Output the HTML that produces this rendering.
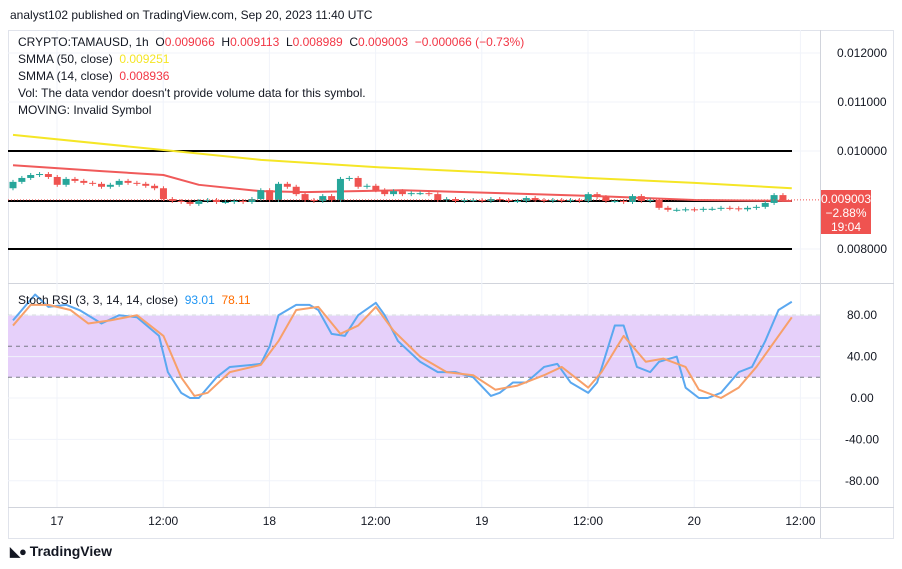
<!DOCTYPE html>
<html><head><meta charset="utf-8"><style>
body{margin:0;width:902px;height:569px;background:#fff;font-family:"Liberation Sans",sans-serif;overflow:hidden;position:relative}
.t{position:absolute;font-size:12px;color:#131722;white-space:nowrap}
.r{color:#f23645}
</style></head><body>
<div class="t" style="left:10px;top:8px;font-size:12px">analyst102 published on TradingView.com, Sep 20, 2023 11:40 UTC</div>
<svg id="c" width="902" height="569" style="position:absolute;left:0;top:0"></svg>
<div class="t" style="left:18px;top:35px">CRYPTO:TAMAUSD, 1h &nbsp;O<span class="r">0.009066</span> &nbsp;H<span class="r">0.009113</span> &nbsp;L<span class="r">0.008989</span> &nbsp;C<span class="r">0.009003</span> &nbsp;<span class="r">−0.000066 (−0.73%)</span></div>
<div class="t" style="left:18px;top:52px">SMMA (50, close) &nbsp;<span style="color:#f5e626">0.009251</span></div>
<div class="t" style="left:18px;top:69px">SMMA (14, close) &nbsp;<span class="r">0.008936</span></div>
<div class="t" style="left:18px;top:86px">Vol: The data vendor doesn't provide volume data for this symbol.</div>
<div class="t" style="left:18px;top:103px">MOVING: Invalid Symbol</div>
<div class="t" style="left:18px;top:293px">Stoch RSI (3, 3, 14, 14, close) &nbsp;<span style="color:#2196f3">93.01</span> &nbsp;<span style="color:#ff6d00">78.11</span></div>
<div class="t" style="left:10px;top:543px;font-size:14px;font-weight:bold">
<span style="font-size:13px;letter-spacing:-1px">◣●</span> TradingView</div>
<script>
const closes=[9.37,9.45,9.51,9.53,9.47,9.31,9.43,9.39,9.35,9.33,9.27,9.31,9.39,9.35,9.33,9.29,9.24,9.02,8.98,8.96,8.92,8.98,9.00,8.96,8.96,8.98,8.96,9.02,9.20,9.00,9.33,9.27,9.12,9.00,8.98,9.08,9.00,9.43,9.45,9.27,9.29,9.20,9.12,9.18,9.12,9.14,9.14,9.12,9.00,9.02,8.98,9.00,9.00,8.98,9.02,9.00,8.98,8.98,9.04,9.00,8.98,9.00,8.98,9.00,8.98,9.12,9.06,8.98,8.98,8.96,9.08,8.98,9.00,8.84,8.80,8.80,8.81,8.80,8.82,8.82,8.84,8.83,8.81,8.84,8.86,8.94,9.10,9.00];
const firstOpen=9.24;
const smma50Idx=[0,17,28,41,53,65,77,88];
const smma50=[10.33,10.02,9.82,9.67,9.57,9.45,9.35,9.24];
const smma14Idx=[0,10,17,21,28,33,44,55,66,77,88];
const smma14=[9.71,9.59,9.51,9.31,9.18,9.16,9.20,9.14,9.08,9.00,8.98];
const kIdx=[0,1,2.5,4,6,7.5,10,12,14,16.5,17.5,19,20,21,23,24.5,27,28,29,30,32,33.5,34.5,36,37.5,39,41,42,43.5,46,48,50,52,54,55,56.5,58,60,61.5,63,65,66,68,69,70.5,72,73,75,76,77.5,78.5,80,82,83.5,85,86.5,88];
const kVal=[75,85,100,88,90,85,72,80,78,60,25,5,0,0,20,30,32,33,50,80,90,90,85,62,60,80,92,80,55,35,25,25,20,2,5,15,15,30,33,15,5,15,70,70,30,25,35,40,10,0,0,5,25,30,55,85,93];
const dIdx=[0,2,4,6.5,8.5,11,14,17,19,20.5,22,24.5,28,30,32,34.5,37,39,41,43,46,49,52,54.5,57,60,62,65,66.5,69,71.5,73.5,76,77.5,80,82,84,86.5,88];
const dVal=[70,90,90,85,72,75,80,60,20,2,5,25,32,55,85,88,62,70,88,65,40,25,22,8,12,22,30,10,25,60,35,38,30,8,0,10,30,60,78];
const priceTicks=[12,11,10,8];
const rsiTicks=[80,40,0,-40,-80];
const timeLabels=["17","12:00","18","12:00","19","12:00","20","12:00"];

const NS="http://www.w3.org/2000/svg",svg=document.getElementById('c');
function el(t,a,p){const e=document.createElementNS(NS,t);for(const k in a)e.setAttribute(k,a[k]);(p||svg).appendChild(e);return e}
const xI=i=>13+i*8.85;
const yP=p=>151+(10-p)*49;
const yR=v=>398-v*1.035;
const fr=el('rect',{x:8.5,y:30.5,width:885,height:508,fill:'none',stroke:'#e0e3eb'});

el('line',{x1:8,y1:283.5,x2:894,y2:283.5,stroke:'#d1d4dc'});
el('line',{x1:820.5,y1:30,x2:820.5,y2:538,stroke:'#d1d4dc'});
el('line',{x1:8,y1:507.5,x2:894,y2:507.5,stroke:'#d1d4dc'});
timeLabels.forEach((l,i)=>{const x=57+i*106.2;
 el('line',{x1:x,y1:30,x2:x,y2:507,stroke:'#f0f3fa'});
 const t=el('text',{x:x,y:525,'font-size':12,fill:'#131722','text-anchor':'middle'});t.textContent=l;
 });
priceTicks.forEach(p=>{const y=yP(p);el('line',{x1:8,y1:y,x2:820,y2:y,stroke:'#f0f3fa'});
 const t=el('text',{x:862,y:y+4,'font-size':12,fill:'#131722','text-anchor':'middle'});t.textContent='0.0'+(p*1000).toFixed(0).padStart(5,'0');
 });
const band=el('rect',{x:8,y:yR(80),width:812,height:yR(20)-yR(80),fill:'#e6d0fa'});

[80,50,20].forEach(v=>el('line',{x1:8,y1:yR(v),x2:820,y2:yR(v),stroke:'#787b86','stroke-dasharray':'4 4','stroke-width':1}));
rsiTicks.forEach(v=>{const y=yR(v);el('line',{x1:8,y1:y,x2:820,y2:y,stroke:'#f0f3fa'});
 const t=el('text',{x:862,y:y+4,'font-size':12,fill:'#131722','text-anchor':'middle'});t.textContent=v.toFixed(2);
 });
[10,8.98,8].forEach(p=>{const l=el('line',{x1:8,y1:yP(p),x2:792,y2:yP(p),stroke:'#000','stroke-width':2});
 });
function poly(ix,vs,yf,col,w,name){const pts=ix.map((i,k)=>xI(i)+','+yf(vs[k])).join(' ');
 const p=el('polyline',{points:pts,fill:'none',stroke:col,'stroke-width':w,'stroke-linejoin':'round'});
 }
poly(smma50Idx,smma50,yP,'#f5e626',2,'smma50-line');
poly(smma14Idx,smma14,yP,'#f05a5a',2,'smma14-line');
let o=firstOpen;
closes.forEach((c,i)=>{const up=c>=o,col=up?'#26a69a':'#ef5350',x=xI(i);
 const top=yP(Math.max(o,c)),bot=yP(Math.min(o,c));
 el('line',{x1:x,y1:top-2,x2:x,y2:bot+2,stroke:col});
 const r=el('rect',{x:x-3.5,y:top,width:7,height:Math.max(1,bot-top),fill:col});
 
 o=c;});
el('line',{x1:8,y1:yP(9.003),x2:820,y2:yP(9.003),stroke:'#ef5350','stroke-dasharray':'1 2'});
poly(kIdx,kVal,yR,'#5ba8f0',2,'stoch-k-line');
poly(dIdx,dVal,yR,'#f7a06a',2,'stoch-d-line');
const g=el('rect',{x:821,y:190,width:50,height:44,fill:'#ef5350'});

[['0.009003',205],['−2.88%',219],['19:04',233]].forEach(([s,y])=>{const t=el('text',{x:846,y:y-2,'font-size':12,fill:'#fff','text-anchor':'middle'});t.textContent=s;});
</script>
</body></html>
